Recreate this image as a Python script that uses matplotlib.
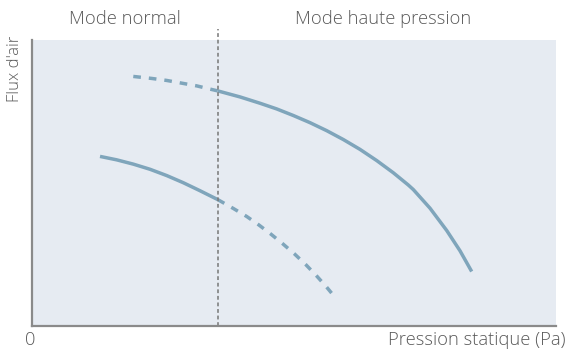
import matplotlib.pyplot as plt

# Curve values (relative units)
hp_dash_x = [19.33, 22.84, 25.71, 28.57, 31.43, 34.29, 35.44]
hp_dash_y = [87.26, 86.56, 85.86, 84.91, 83.96, 82.70, 82.21]
hp_solid_x = [35.44, 39.69, 43.51, 46.70, 49.87, 53.05, 56.24, 59.41, 62.60,
              65.78, 68.95, 71.81, 72.77, 75.95, 79.14, 81.68, 83.91]
hp_solid_y = [82.21, 80.10, 77.89, 75.90, 73.60, 71.10, 68.30, 65.20, 61.75,
              57.85, 53.58, 49.30, 47.70, 41.20, 33.40, 26.30, 19.05]

nm_solid_x = [12.98, 16.16, 19.33, 22.52, 25.71, 28.87, 32.06, 35.44]
nm_solid_y = [59.30, 58.10, 56.60, 54.80, 52.60, 50.10, 47.30, 44.21]
nm_dash_x = [35.44, 38.42, 40.97, 43.32, 45.61, 47.84, 50.06, 52.23, 54.20, 56.11, 57.82]
nm_dash_y = [44.21, 41.10, 38.30, 35.30, 32.10, 28.77, 25.26, 21.50, 17.75, 13.85, 10.07]

mode_split = 35.44
mode_labels = ["Mode normal", "Mode haute pression"]

line_col = '#7fa5bb'
text_col = '#5a5a5a'
plt.rcParams['font.family'] = ['Open Sans', 'DejaVu Sans']

fig = plt.figure(figsize=(5.68, 3.49), dpi=100)
ax = fig.add_axes([32 / 568, (349 - 326) / 349, (556 - 32) / 568, (326 - 40) / 349])
ax.set_facecolor('#e6ebf2')
ax.set_xlim(0, 100)
ax.set_ylim(0, 100)

ax.plot(hp_solid_x, hp_solid_y, color=line_col, lw=2.5, solid_capstyle='butt')
ax.plot(hp_dash_x, hp_dash_y, color=line_col, lw=2.5, dashes=(2.2, 2.3))
ax.plot(nm_solid_x, nm_solid_y, color=line_col, lw=2.5, solid_capstyle='butt')
ax.plot(nm_dash_x, nm_dash_y, color=line_col, lw=2.5, dashes=(2.2, 2.3))

# mode separator
ax.plot([mode_split, mode_split], [0, 104], color='#777777', lw=1.1,
        dashes=(2.5, 1.8), clip_on=False)

fs = 13.2
ax.text(17.8, 107.5, mode_labels[0], ha='center', va='center', fontsize=fs,
        color=text_col, weight='light')
ax.text(67.0, 107.5, mode_labels[1], ha='center', va='center', fontsize=fs,
        color=text_col, weight='light')

for s in ['top', 'right']:
    ax.spines[s].set_visible(False)
for s in ['left', 'bottom']:
    ax.spines[s].set_color('#8a8a8a')
    ax.spines[s].set_linewidth(1.6)
ax.set_xticks([])
ax.set_yticks([])

fig.text(30 / 568, 1 - 340 / 349, "0", ha='center', va='center', fontsize=fs,
         color=text_col, weight='light')
fig.text(566 / 568, 1 - 340 / 349, "Pression statique (Pa)", ha='right', va='center',
         fontsize=fs, color=text_col, weight='light')
fig.text(15 / 568, 1 - 69 / 349, "Flux d'air", ha='center', va='center', rotation=90,
         fontsize=12, color=text_col, weight='light')

fig.savefig('out.png', dpi=100)
